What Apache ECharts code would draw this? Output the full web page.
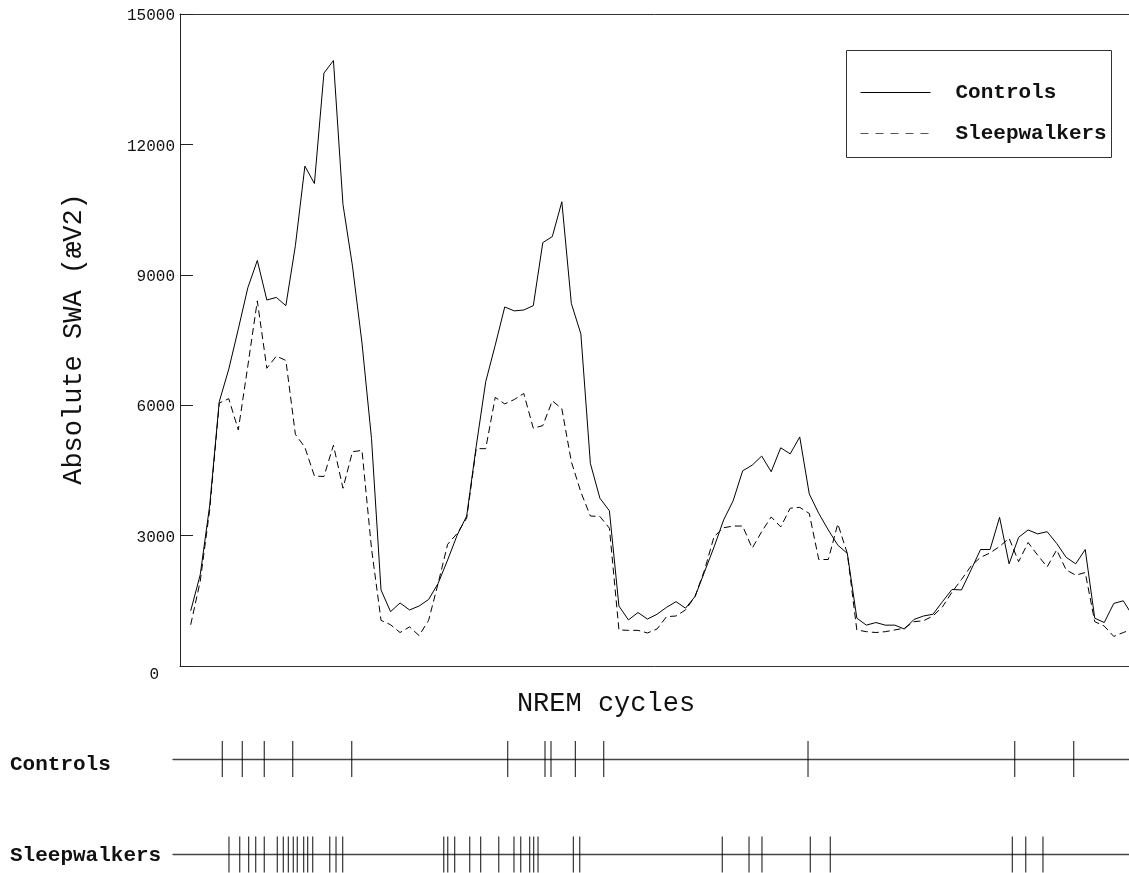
<!DOCTYPE html>
<html>
<head>
<meta charset="utf-8">
<script src="https://cdn.jsdelivr.net/npm/echarts@6/dist/echarts.min.js"></script>
<style>
html,body{margin:0;padding:0;background:#fff;}
#chart{width:1129px;height:873px;}
</style>
</head>
<body>
<div id="chart"></div>
<script>
// epoch index (x) for each SWA value
const epochs = Array.from({length: 100}, (_, i) => i + 1);
const controlsSWA = [
  1270, 2100, 3700, 6080, 6830, 7750, 8700, 9330, 8420, 8480,
  8290, 9670, 11500, 11100, 13640, 13930, 10620, 9200, 7430, 5230,
  1750, 1250, 1450, 1290, 1380, 1530, 1900, 2440, 3010, 3450,
  5050, 6540, 7380, 8260, 8170, 8190, 8290, 9740, 9880, 10680,
  8340, 7640, 4660, 3860, 3570, 1380, 1060, 1230, 1080, 1190,
  1350, 1480, 1330, 1600, 2170, 2740, 3360, 3800, 4490, 4620,
  4830, 4470, 5020, 4880, 5270, 3960, 3510, 3130, 2780, 2590,
  1100, 940, 1000, 940, 940, 850, 1070, 1150, 1190, 1480,
  1760, 1750, 2210, 2680, 2680, 3420, 2350, 2960, 3130, 3040,
  3090, 2820, 2500, 2350, 2680, 1100, 1000, 1440, 1500, 1150
];
const sleepwalkersSWA = [
  950, 1950, 3600, 6050, 6150, 5430, 6900, 8400, 6850, 7130,
  7030, 5330, 5030, 4370, 4360, 5080, 4090, 4930, 4960, 2700,
  1050, 950, 770, 900, 700, 1050, 1900, 2800, 3050, 3400,
  5000, 5000, 6180, 6030, 6130, 6270, 5470, 5530, 6100, 5920,
  4700, 4000, 3450, 3440, 3170, 830, 820, 820, 760, 850,
  1135, 1150, 1290, 1600, 2210, 2980, 3180, 3220, 3220, 2710,
  3090, 3430, 3200, 3630, 3650, 3510, 2450, 2450, 3270, 2590,
  830, 790, 770, 790, 830, 870, 1020, 1040, 1150, 1360,
  1700, 1990, 2300, 2500, 2600, 2750, 2940, 2400, 2840, 2550,
  2280, 2670, 2210, 2090, 2150, 1020, 920, 680, 770, 850
];
// event marks (in epoch units) under the chart
const controlsEvents = [4.32, 6.42, 8.73, 11.72, 17.92, 34.31, 38.23, 38.86, 41.42, 44.40, 65.87, 87.59, 93.79];
const sleepwalkersEvents = [5.02, 6.15, 7.09, 7.83, 8.73, 10.10, 10.73, 11.26, 11.78, 12.20, 12.87, 13.29, 13.82,
  15.61, 16.27, 16.97, 27.59, 28.01, 28.74, 30.32, 31.47, 33.37, 34.97, 35.68, 36.62, 37.04, 37.50,
  41.21, 41.88, 56.86, 59.67, 61.03, 66.11, 68.21, 87.34, 88.75, 90.56];
const yTicks = [0, 3000, 6000, 9000, 12000, 15000];
const seriesNames = ['Controls', 'Sleepwalkers'];

const MONO = '"Liberation Mono", "DejaVu Sans Mono", monospace';
const X_MIN = -0.125, X_MAX = 99.6;
const X_MIN_ROW = -0.861;

const chart = echarts.init(document.getElementById('chart'));
const pair = (xs, ys) => xs.map((x, i) => [x, ys[i]]);
const ev = a => a.map(v => [v, 0]);

const hiddenAxisBits = {axisTick: {show: false}, axisLabel: {show: false}, splitLine: {show: false}};

chart.setOption({
  animation: false,
  backgroundColor: '#fff',
  grid: [
    {left: 180, right: 0, top: 14, height: 652},
    {left: 173, right: 0, top: 741, height: 36},
    {left: 173, right: 0, top: 836.5, height: 36}
  ],
  xAxis: [
    {type: 'value', gridIndex: 0, min: X_MIN, max: X_MAX, ...hiddenAxisBits,
     axisLine: {show: true, onZero: false, lineStyle: {color: '#333', width: 1}}},
    {type: 'value', gridIndex: 1, min: X_MIN_ROW, max: X_MAX, ...hiddenAxisBits,
     axisLine: {show: true, onZero: true, lineStyle: {color: '#444', width: 1.3}}},
    {type: 'value', gridIndex: 2, min: X_MIN_ROW, max: X_MAX, ...hiddenAxisBits,
     axisLine: {show: true, onZero: true, lineStyle: {color: '#444', width: 1.3}}},
    {type: 'value', gridIndex: 0, position: 'top', min: X_MIN, max: X_MAX, ...hiddenAxisBits,
     axisLine: {show: true, onZero: false, lineStyle: {color: '#333', width: 1}}}
  ],
  yAxis: [
    {type: 'value', gridIndex: 0, min: yTicks[0], max: yTicks[yTicks.length - 1], interval: 3000,
     splitLine: {show: false},
     axisLine: {show: true, onZero: false, lineStyle: {color: '#222', width: 1}},
     axisTick: {show: true, inside: true, length: 13, lineStyle: {color: '#222'}},
     axisLabel: {
       margin: 5, color: '#111', fontFamily: MONO, fontSize: 16, padding: [4, 0, 0, 0],
       formatter: v => v === 0 ? '{z|0}' : String(v),
       rich: {z: {fontFamily: MONO, fontSize: 16, color: '#111', padding: [14, 16, 0, 0]}}
     }},
    {type: 'value', gridIndex: 1, min: -1, max: 1, show: false},
    {type: 'value', gridIndex: 2, min: -1, max: 1, show: false}
  ],
  legend: {
    orient: 'vertical', left: 855, top: 77, itemWidth: 70, itemHeight: 21, itemGap: 20,
    data: [
      {name: seriesNames[0], lineStyle: {width: 1, color: '#000', type: 'solid'}},
      {name: seriesNames[1], lineStyle: {width: 1, color: '#555', type: [8, 7]}}
    ],
    itemStyle: {opacity: 0},
    lineStyle: {width: 1},
    textStyle: {fontFamily: MONO, fontWeight: 'bold', fontSize: 21, color: '#111', lineHeight: 21, padding: [0, 0, 0, 20]}
  },
  graphic: [
    {type: 'rect', silent: true, shape: {x: 846.5, y: 50.5, width: 265, height: 107},
     style: {fill: 'none', stroke: '#333', lineWidth: 1}},
    {type: 'text', silent: true, x: 74, y: 339, rotation: Math.PI / 2,
     style: {text: 'Absolute SWA (æV2)', font: '27px ' + MONO, fill: '#111', align: 'center', verticalAlign: 'middle'}},
    {type: 'text', silent: true, x: 606, y: 704,
     style: {text: 'NREM cycles', font: '27px ' + MONO, fill: '#111', align: 'center', verticalAlign: 'middle'}},
    {type: 'text', silent: true, x: 10, y: 765,
     style: {text: 'Controls', font: 'bold 21px ' + MONO, fill: '#111', align: 'left', verticalAlign: 'middle'}},
    {type: 'text', silent: true, x: 10, y: 856,
     style: {text: 'Sleepwalkers', font: 'bold 21px ' + MONO, fill: '#111', align: 'left', verticalAlign: 'middle'}}
  ],
  series: [
    {name: seriesNames[0], type: 'line', xAxisIndex: 0, yAxisIndex: 0, data: pair(epochs, controlsSWA),
     symbol: 'none', showSymbol: false, clip: true,
     lineStyle: {color: '#000', width: 1}, itemStyle: {color: '#000'}},
    {name: seriesNames[1], type: 'line', xAxisIndex: 0, yAxisIndex: 0, data: pair(epochs, sleepwalkersSWA),
     symbol: 'none', showSymbol: false, clip: true,
     lineStyle: {color: '#000', width: 1, type: [7, 4]}, itemStyle: {color: '#000'}},
    {name: 'controlsEvents', type: 'scatter', xAxisIndex: 1, yAxisIndex: 1, data: ev(controlsEvents),
     symbol: 'rect', symbolSize: [1.2, 36], itemStyle: {color: '#000'}, silent: true},
    {name: 'sleepwalkersEvents', type: 'scatter', xAxisIndex: 2, yAxisIndex: 2, data: ev(sleepwalkersEvents),
     symbol: 'rect', symbolSize: [1.2, 36], itemStyle: {color: '#000'}, silent: true}
  ]
});
</script>
</body>
</html>
